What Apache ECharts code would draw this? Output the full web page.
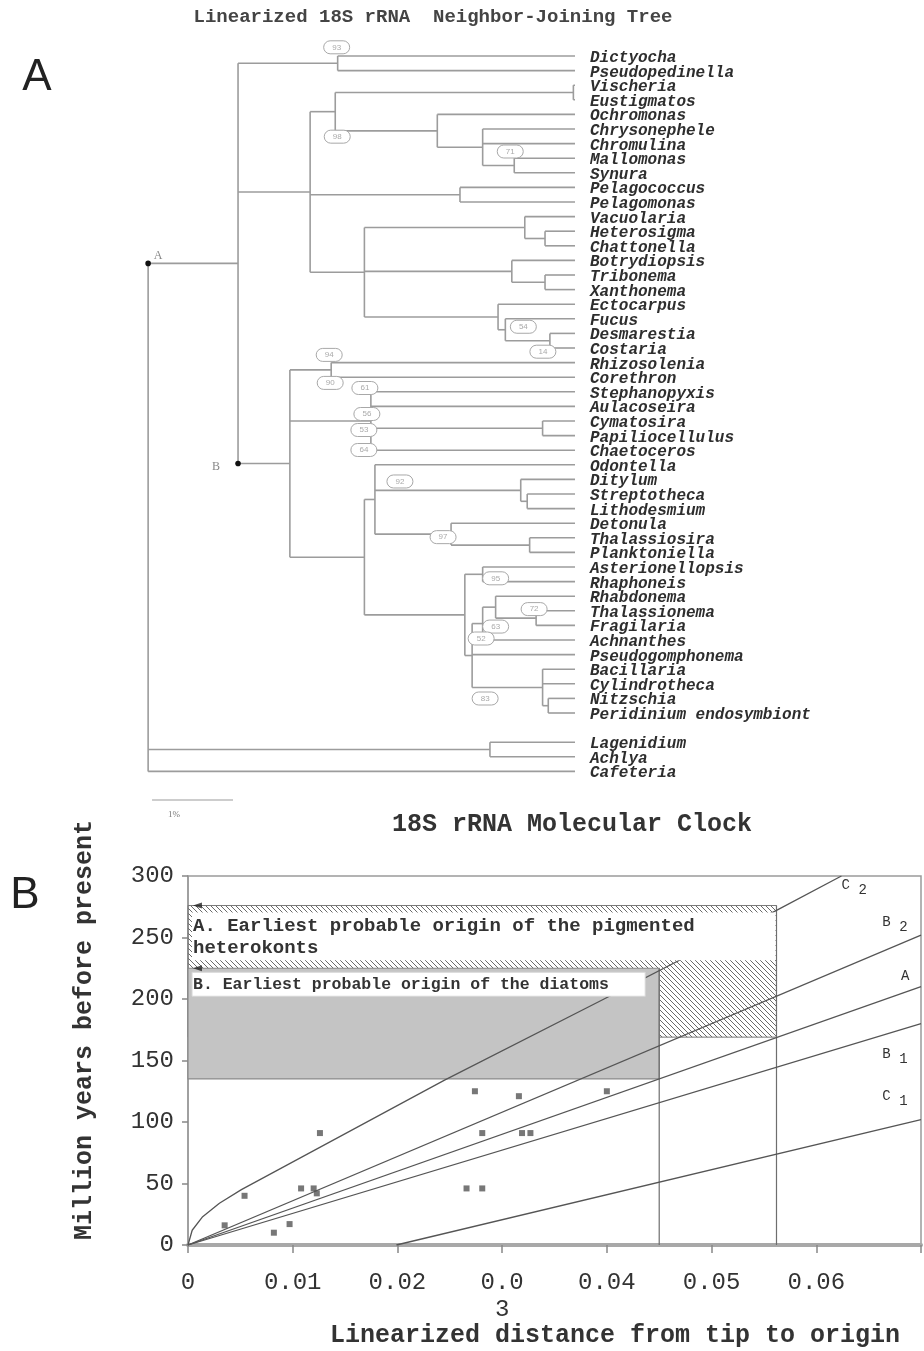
<!DOCTYPE html>
<html>
<head>
<meta charset="utf-8">
<script src="https://cdn.jsdelivr.net/npm/echarts@6.0.0/dist/echarts.min.js"></script>
<style>html,body{margin:0;padding:0;background:#fff}#c{width:924px;height:1351px}</style>
</head>
<body>
<div id="c"></div>
<script>
// ================= DATA : panel A (linearized NJ tree) =================
const treeTitle = 'Linearized 18S rRNA  Neighbor-Joining Tree';
const taxa = ['Dictyocha','Pseudopedinella','Vischeria','Eustigmatos','Ochromonas','Chrysonephele',
  'Chromulina','Mallomonas','Synura','Pelagococcus','Pelagomonas','Vacuolaria','Heterosigma',
  'Chattonella','Botrydiopsis','Tribonema','Xanthonema','Ectocarpus','Fucus','Desmarestia','Costaria',
  'Rhizosolenia','Corethron','Stephanopyxis','Aulacoseira','Cymatosira','Papiliocellulus','Chaetoceros',
  'Odontella','Ditylum','Streptotheca','Lithodesmium','Detonula','Thalassiosira','Planktoniella',
  'Asterionellopsis','Rhaphoneis','Rhabdonema','Thalassionema','Fragilaria','Achnanthes',
  'Pseudogomphonema','Bacillaria','Cylindrotheca','Nitzschia','Peridinium endosymbiont',
  'Lagenidium','Achlya','Cafeteria'];
// topology: [nodeId, children]; leaves are taxon names
const topology = ['R', [
  ['HP', [
    ['DIC', ['Dictyocha','Pseudopedinella']],
    ['OCH', [
      ['EC', [
        ['EUS', ['Vischeria','Eustigmatos']],
        ['CHR', ['Ochromonas', ['CH2', ['Chrysonephele','Chromulina', ['MS', ['Mallomonas','Synura']]]]]]
      ]],
      ['PEL', ['Pelagococcus','Pelagomonas']],
      ['RXP', [
        ['RAP', ['Vacuolaria', ['HC', ['Heterosigma','Chattonella']]]],
        ['XAN', ['Botrydiopsis', ['TX', ['Tribonema','Xanthonema']]]],
        ['PHA', ['Ectocarpus', ['FU', ['Fucus', ['DC', ['Desmarestia','Costaria']]]]]]
      ]]
    ]],
    ['DIA', [
      ['RC', ['Rhizosolenia','Corethron']],
      ['CEN', ['Stephanopyxis','Aulacoseira', ['CP', ['Cymatosira','Papiliocellulus']], 'Chaetoceros']],
      ['PP', [
        ['POL', ['Odontella', ['DIT', ['Ditylum', ['SL', ['Streptotheca','Lithodesmium']]]],
                 ['THA', ['Detonula', ['TP', ['Thalassiosira','Planktoniella']]]]]],
        ['PEN', [
          ['AR', ['Asterionellopsis','Rhaphoneis']],
          ['PE2', [
            ['RTF', [['RT', ['Rhabdonema', ['TF', ['Thalassionema','Fragilaria']]]], 'Achnanthes']],
            'Pseudogomphonema',
            ['BCN', ['Bacillaria','Cylindrotheca', ['NP', ['Nitzschia','Peridinium endosymbiont']]]]
          ]]
        ]]
      ]]
    ]]
  ]],
  ['OOM', ['Lagenidium','Achlya']],
  'Cafeteria'
]];
// node heights (linearized distance from the tips, in %)
const nodeHeight = {R:5.27, HP:4.16, DIC:2.93, OCH:3.27, EC:2.96, EUS:0.02, CHR:1.70, CH2:1.14, MS:0.75,
  PEL:1.42, RXP:2.60, RAP:0.62, HC:0.37, XAN:0.78, TX:0.37, PHA:0.95, FU:0.86, DC:0.31,
  DIA:3.52, RC:3.01, CEN:2.52, CP:0.40, PP:2.60, POL:2.47, DIT:0.67, SL:0.59, THA:1.53, TP:0.56,
  PEN:1.36, AR:1.14, PE2:1.27, RTF:1.14, RT:0.98, TF:0.48, BCN:0.40, NP:0.33, OOM:1.05};
const bootstrapNodes  = ['DIC','EC','MS','FU','DC','RC','RC','CEN','CEN','CEN','CEN','POL','THA','AR','TF','RTF','PE2','PE2'];
const bootstrapValues = ['93','98','71','54','14','94','90','61','56','53','64','92','97','95','72','63','52','83'];
const nodeMarkIds    = ['HP','DIA'];
const nodeMarkLabels = ['A','B'];
const scaleBarLength = 1;          // %
const scaleBarLabel  = '1%';

// ================= DATA : panel B (molecular clock) =================
const clockTitle = '18S rRNA Molecular Clock';
const yAxisTitle = 'Million years before present';
const xAxisTitle = 'Linearized distance from tip to origin';
const clockX = [0.0035,0.0054,0.0082,0.0097,0.0108,0.0120,0.0123,0.0126,0.0266,0.0281,0.0274,0.0281,0.0316,0.0319,0.0327,0.0400];
const clockY = [16,40,10,17,46,46,42,91,46,46,125,91,121,91,91,125];
const curveC2 = [[0,0],[0.0004,12],[0.0014,23],[0.003,34],[0.0051,45],[0.0245,134],[0.0395,199],[0.0562,272],[0.0624,300]];
const lineB2 = [[0,0],[0.07,252]];
const lineA  = [[0,0],[0.07,210]];
const lineB1 = [[0,0],[0.07,180]];
const lineC1 = [[0.0199,0],[0.07,102]];
const lineNames = [['C','2'],['B','2'],['A',''],['B','1'],['C','1']];
const boxA = [0, 169, 0.0562, 276];   // [x0, y0, x1, y1]
const boxB = [0, 135, 0.045, 225];
const boxALabel = ['A. Earliest probable origin of the pigmented', 'heterokonts'];
const boxBLabel = 'B. Earliest probable origin of the diatoms';

// ================= LAYOUT / STYLE =================
const L = {
  treeTop: 56, rowH: 14.6, tipPx: 575, rootPx: 148, pxPerPct: 81, gapAfterIndex: 45,
  ovalOffsets: [[-1,-16],[2,25],[-4,-14],[18,-3],[-7,11],[-2,-15],[-1,13],[-6,-33],[-4,-7],[-7,9],[-7,29],
                [25,-18],[-8,3],[13,4],[-2,-9],[13,3],[9,-17],[13,43]],
  scaleBarRow: 50.96,
  lineLabelAt: [[0.0628,292.3],[0.0667,262.3],[0.0685,218.5],[0.0667,155.3],[0.0667,120.6]]
};
const MONO = '"Liberation Mono", "DejaVu Sans Mono", monospace';
const TREE_LINE = '#9c9c9c';

// ---------- tree layout ----------
const rowOf = {};
taxa.forEach((t, i) => { rowOf[t] = i + (i > L.gapAfterIndex ? 1 : 0); });
const segs = [];
const nodes = {};
function layout(n) {
  if (typeof n === 'string') return { h: 0, r: rowOf[n] };
  const id = n[0], kids = n[1].map(layout), h = nodeHeight[id];
  const r = (kids[0].r + kids[kids.length - 1].r) / 2;
  segs.push([h, kids[0].r, h, kids[kids.length - 1].r]);
  kids.forEach(k => { segs.push([h, k.r, k.h, k.r]); if (k.id) nodes[k.id].parentH = h; });
  nodes[id] = { h, r, parentH: null };
  return { h, r, id };
}
layout(topology);
const treeXMax = (L.tipPx - L.rootPx) / L.pxPerPct;
const treeRows = 49;

// hatch pattern
const pc = document.createElement('canvas');
pc.width = 5; pc.height = 5;
const pctx = pc.getContext('2d');
pctx.strokeStyle = '#6a6a6a'; pctx.lineWidth = 1;
pctx.beginPath();
pctx.moveTo(-1, -1); pctx.lineTo(6, 6);
pctx.moveTo(4, -1); pctx.lineTo(6, 1);
pctx.moveTo(-1, 4); pctx.lineTo(1, 6);
pctx.stroke();
const hatch = { image: pc, repeat: 'repeat' };

function seg(api, stroke, width) {
  const a = api.coord([api.value(0), api.value(1)]);
  const b = api.coord([api.value(2), api.value(3)]);
  return { type: 'line', shape: { x1: a[0], y1: a[1], x2: b[0], y2: b[1] }, style: { stroke, lineWidth: width } };
}
function rectOf(api, b) {
  const a = api.coord([b[0], b[3]]), c = api.coord([b[2], b[1]]);
  return { x: a[0], y: a[1], width: c[0] - a[0], height: c[1] - a[1] };
}

const chart = echarts.init(document.getElementById('c'), null, { renderer: 'canvas', width: 924, height: 1351 });

const series = [
  // ---- tree branches
  { type: 'custom', xAxisIndex: 0, yAxisIndex: 0, clip: false, silent: true, z: 2,
    data: segs, encode: { x: [0, 2], y: [1, 3] },
    renderItem: (p, api) => seg(api, TREE_LINE, 1.6) },
  // ---- scale bar
  { type: 'custom', xAxisIndex: 0, yAxisIndex: 0, clip: false, silent: true, z: 2,
    data: [[treeXMax - 0.05, L.scaleBarRow, treeXMax - 0.05 - scaleBarLength, L.scaleBarRow]],
    encode: { x: [0, 2], y: [1, 3] },
    renderItem: (p, api) => {
      const a = api.coord([api.value(0), api.value(1)]), b = api.coord([api.value(2), api.value(3)]);
      return { type: 'group', children: [
        { type: 'line', shape: { x1: a[0], y1: a[1], x2: b[0], y2: b[1] }, style: { stroke: '#9c9c9c', lineWidth: 1.2 } },
        { type: 'text', style: { text: scaleBarLabel, x: a[0] + 22, y: a[1] + 15, font: '9px "Liberation Serif"', fill: '#777', textAlign: 'center', textVerticalAlign: 'middle' } }
      ] };
    } },
  // ---- leaf labels
  { type: 'custom', xAxisIndex: 0, yAxisIndex: 0, clip: false, silent: true, z: 3,
    data: taxa.map(t => [0, rowOf[t]]),
    renderItem: (p, api) => {
      const a = api.coord([api.value(0), api.value(1)]);
      return { type: 'text', style: { text: taxa[p.dataIndex], x: a[0] + 15, y: a[1] + 2,
        font: 'italic bold 16px ' + MONO, fill: '#2e2e2e', textAlign: 'left', textVerticalAlign: 'middle' } };
    } },
  // ---- bootstrap ovals
  { type: 'custom', xAxisIndex: 0, yAxisIndex: 0, clip: false, silent: true, z: 4,
    data: bootstrapNodes.map(id => [nodes[id].h, nodes[id].r]),
    renderItem: (p, api) => {
      const a = api.coord([api.value(0), api.value(1)]);
      const o = L.ovalOffsets[p.dataIndex];
      const w = 26, h = 13;
      return { type: 'group', x: a[0] + o[0], y: a[1] + o[1], children: [
        { type: 'rect', shape: { x: -w / 2, y: -h / 2, width: w, height: h, r: h / 2 }, style: { fill: '#fff', stroke: '#a8a8a8', lineWidth: 1 } },
        { type: 'text', style: { text: bootstrapValues[p.dataIndex], x: 0, y: 0, font: '8px "Liberation Sans"', fill: '#aaa', textAlign: 'center', textVerticalAlign: 'middle' } }
      ] };
    } },
  // ---- node marks A / B
  { type: 'custom', xAxisIndex: 0, yAxisIndex: 0, clip: false, silent: true, z: 5,
    data: nodeMarkIds.map(id => [nodes[id].parentH, nodes[id].r]),
    renderItem: (p, api) => {
      const a = api.coord([api.value(0), api.value(1)]);
      const isA = p.dataIndex === 0;
      return { type: 'group', children: [
        { type: 'circle', shape: { cx: a[0], cy: a[1], r: 2.8 }, style: { fill: '#111' } },
        { type: 'text', style: { text: nodeMarkLabels[p.dataIndex], x: a[0] + (isA ? 10 : -22), y: a[1] + (isA ? -8 : 3),
          font: '12px "Liberation Serif"', fill: '#888', textAlign: 'center', textVerticalAlign: 'middle' } }
      ] };
    } },

  // ================= panel B =================
  { type: 'custom', xAxisIndex: 1, yAxisIndex: 1, silent: true, z: 1, data: [boxA],
    renderItem: (p, api) => ({ type: 'rect', shape: rectOf(api, boxA), style: { fill: hatch, stroke: '#7a7a7a', lineWidth: 1 } }) },
  { type: 'custom', xAxisIndex: 1, yAxisIndex: 1, silent: true, z: 2, data: [boxB],
    renderItem: (p, api) => ({ type: 'rect', shape: rectOf(api, boxB), style: { fill: '#c4c4c4', stroke: '#8a8a8a', lineWidth: 1.2 } }) },
  { type: 'custom', xAxisIndex: 1, yAxisIndex: 1, silent: true, z: 3,
    data: [[boxA[2], 0, boxA[2], boxA[3]], [boxB[2], 0, boxB[2], boxB[3]]],
    renderItem: (p, api) => seg(api, '#6e6e6e', 1.2) },
  ...[curveC2, lineB2, lineA, lineB1, lineC1].map(d => ({
    type: 'line', xAxisIndex: 1, yAxisIndex: 1, data: d, symbol: 'none', silent: true, z: 4,
    lineStyle: { color: '#555', width: 1.3 } })),
  // white label panels + texts
  { type: 'custom', xAxisIndex: 1, yAxisIndex: 1, silent: true, z: 5, data: [boxA, boxB],
    renderItem: (p, api) => {
      if (p.dataIndex === 0) {
        const tl = api.coord([boxA[0], boxA[3]]), br = api.coord([boxA[2], boxB[3]]);
        return { type: 'group', children: [
          { type: 'rect', shape: { x: tl[0] + 4, y: tl[1] + 7, width: br[0] - tl[0] - 5, height: br[1] - tl[1] - 15 }, style: { fill: '#fff' } },
          { type: 'text', style: { text: boxALabel[0], x: tl[0] + 5, y: tl[1] + 21, font: 'bold 19px ' + MONO, fill: '#333', textAlign: 'left', textVerticalAlign: 'middle' } },
          { type: 'text', style: { text: boxALabel[1], x: tl[0] + 5, y: tl[1] + 43, font: 'bold 19px ' + MONO, fill: '#333', textAlign: 'left', textVerticalAlign: 'middle' } }
        ] };
      }
      const tl = api.coord([boxB[0], boxB[3]]), br = api.coord([boxB[2], boxB[1]]);
      return { type: 'group', children: [
        { type: 'rect', shape: { x: tl[0] + 4, y: tl[1] + 4, width: br[0] - tl[0] - 18, height: 24 }, style: { fill: '#fff', stroke: '#d6d6d6', lineWidth: 1 } },
        { type: 'text', style: { text: boxBLabel, x: tl[0] + 5, y: tl[1] + 17, font: 'bold 16.5px ' + MONO, fill: '#333', textAlign: 'left', textVerticalAlign: 'middle' } }
      ] };
    } },
  // arrowheads at box tops
  { type: 'scatter', xAxisIndex: 1, yAxisIndex: 1, silent: true, z: 6, symbol: 'triangle', symbolRotate: 90,
    symbolSize: [6, 9], itemStyle: { color: '#222' }, data: [[0.0009, boxA[3]], [0.0009, boxB[3]]] },
  // line labels
  { type: 'custom', xAxisIndex: 1, yAxisIndex: 1, silent: true, z: 6, clip: false, data: L.lineLabelAt,
    renderItem: (p, api) => {
      const a = api.coord([api.value(0), api.value(1)]);
      const n = lineNames[p.dataIndex];
      return { type: 'group', children: [
        { type: 'text', style: { text: n[0], x: a[0], y: a[1], font: '14px ' + MONO, fill: '#333', textAlign: 'center', textVerticalAlign: 'middle' } },
        { type: 'text', style: { text: n[1], x: a[0] + 17, y: a[1] + 5, font: '14px ' + MONO, fill: '#333', textAlign: 'center', textVerticalAlign: 'middle' } }
      ] };
    } },
  // calibration points
  { type: 'scatter', xAxisIndex: 1, yAxisIndex: 1, silent: true, z: 7, symbol: 'rect', symbolSize: 6,
    itemStyle: { color: '#555' }, data: clockX.map((x, i) => [x, clockY[i]]) }
];

chart.setOption({
  animation: false,
  backgroundColor: '#fff',
  grid: [
    { left: L.rootPx, top: L.treeTop, width: L.tipPx - L.rootPx, height: treeRows * L.rowH, containLabel: false },
    { left: 188, top: 876, width: 740, height: 369, show: true, borderColor: '#9a9a9a', borderWidth: 1.5, containLabel: false }
  ],
  xAxis: [
    { gridIndex: 0, type: 'value', min: 0, max: treeXMax, inverse: true, show: false },
    { gridIndex: 1, type: 'value', min: 0, max: 0.07, interval: 0.01,
      axisLine: { lineStyle: { color: '#a8a8a8', width: 4 } },
      axisTick: { length: 8, lineStyle: { color: '#888', width: 1.5 } },
      splitLine: { show: false },
      axisLabel: { margin: 24, fontSize: 24, fontFamily: MONO, color: '#333', lineHeight: 27, showMaxLabel: true,
        formatter: v => { const k = Math.round(v * 100); if (k === 0) return '0'; if (k === 7) return ''; if (k === 3) return '0.0\n3'; return (k / 100).toFixed(2); } } }
  ],
  yAxis: [
    { gridIndex: 0, type: 'value', min: 0, max: treeRows, inverse: true, show: false },
    { gridIndex: 1, type: 'value', min: 0, max: 300, interval: 50,
      axisLine: { show: true, lineStyle: { color: '#9a9a9a', width: 1.5 } },
      axisTick: { show: true, length: 6, lineStyle: { color: '#888', width: 1.5 } },
      splitLine: { show: false },
      axisLabel: { margin: 14, fontSize: 24, fontFamily: MONO, color: '#333' } }
  ],
  graphic: [
    { type: 'text', x: 433, y: 17, style: { text: treeTitle, font: 'bold 19px ' + MONO, fill: '#444', textAlign: 'center', textVerticalAlign: 'middle' } },
    { type: 'text', x: 37, y: 78, style: { text: 'A', font: '44px "Liberation Sans"', fill: '#222', textAlign: 'center', textVerticalAlign: 'middle' } },
    { type: 'text', x: 25, y: 896, style: { text: 'B', font: '44px "Liberation Sans"', fill: '#222', textAlign: 'center', textVerticalAlign: 'middle' } },
    { type: 'text', x: 572, y: 825, style: { text: clockTitle, font: 'bold 25px ' + MONO, fill: '#333', textAlign: 'center', textVerticalAlign: 'middle' } },
    { type: 'text', x: 85, y: 1030, rotation: Math.PI / 2, style: { text: yAxisTitle, font: 'bold 25px ' + MONO, fill: '#333', textAlign: 'center', textVerticalAlign: 'middle' } },
    { type: 'text', x: 615, y: 1336, style: { text: xAxisTitle, font: 'bold 25px ' + MONO, fill: '#333', textAlign: 'center', textVerticalAlign: 'middle' } }
  ],
  series
});
</script>
</body>
</html>
